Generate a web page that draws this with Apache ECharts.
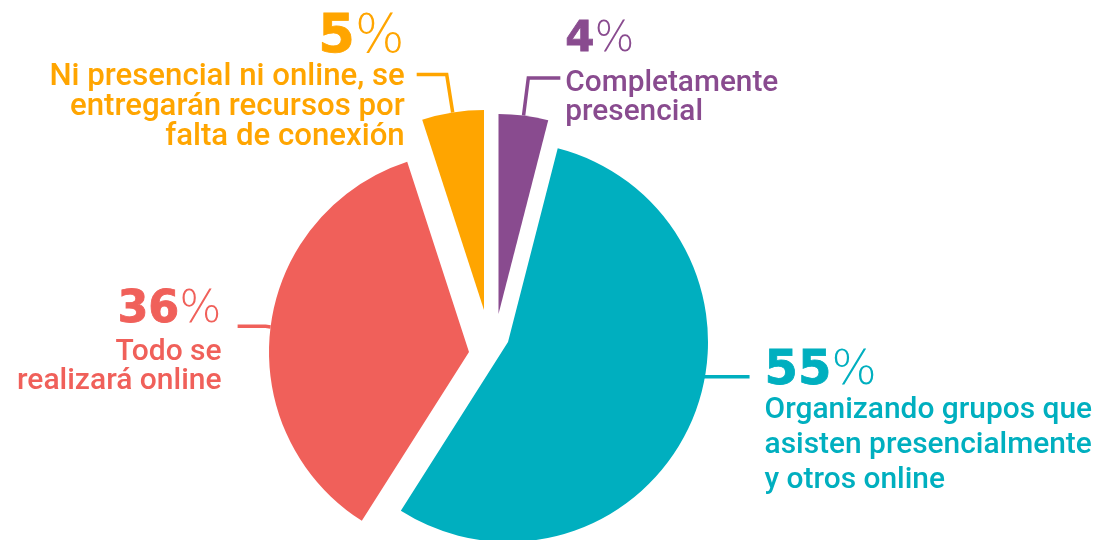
<!DOCTYPE html>
<html>
<head>
<meta charset="utf-8">
<script src="https://cdn.jsdelivr.net/npm/echarts@6/dist/echarts.min.js"></script>
<style>
  html, body { margin: 0; padding: 0; background: #ffffff; }
  #chart { width: 1101px; height: 540px; }
</style>
</head>
<body>
<div id="chart"></div>
<script>
// ---- data ----
const categories = [
  'Completamente\npresencial',
  'Organizando grupos que\nasisten presencialmente\ny otros online',
  'Todo se\nrealizará online',
  'Ni presencial ni online, se\nentregarán recursos por\nfalta de conexión'
];
const values = [4, 55, 36, 5];
const colors = ['#894B8F', '#00AFBF', '#F0605A', '#FFA500'];

// ---- styling / layout (one exploded piece per series) ----
const R = 200;
const pieces = [
  { center: [498.5, 314], len: 38, len2: 32, dist: 5,  num: 42,   txt: 29.8, h1: 59,   lh: 28.5, pad: [0, 0, 19, 0] },
  { center: [508, 342],   len: 0,  len2: 58, dist: 15, num: 48,   txt: 29.9, h1: 44,   lh: 35,   pad: [5, 0, 0, 0], lineAngle: 100 },
  { center: [469, 352],   len: 5,  len2: 28, dist: 16, num: 44.5, txt: 30,   h1: 55.5, lh: 28.5, pad: [26, 0, 0, 0] },
  { center: [484, 310],   len: 38.5, len2: 30, dist: 12, num: 52.5, txt: 31.2, h1: 49, lh: 30,   pad: [17, 0, 0, 0] }
];

const chart = echarts.init(document.getElementById('chart'), null, { renderer: 'canvas' });

const series = pieces.map((pc, k) => {
  const data = values.map((v, i) => {
    const own = i === k;
    return {
      name: categories[i],
      value: v,
      itemStyle: { color: own ? colors[i] : 'rgba(0,0,0,0)' },
      label: { show: own },
      labelLine: { show: own }
    };
  });
  const s = {
    type: 'pie',
    silent: true,
    animation: false,
    center: pc.center,
    radius: [0, R],
    startAngle: 90,
    clockwise: true,
    avoidLabelOverlap: false,
    data: data,
    label: {
      position: 'outside',
      distanceToLabelLine: pc.dist,
      padding: pc.pad,
      formatter: (p) => '{num|' + p.value + '}{pct|%}\n' +
        p.name.split('\n').map(t => '{txt|' + t + '}').join('\n'),
      rich: {
        num: { fontFamily: 'DejaVu Sans', fontWeight: 'bold', fontSize: pc.num, lineHeight: pc.h1, color: colors[k], textBorderColor: colors[k], textBorderWidth: 0.8 },
        pct: { fontFamily: 'DejaVu Sans', fontWeight: 200, fontSize: pc.num, lineHeight: pc.h1, color: colors[k] },
        txt: { fontFamily: 'Roboto', fontWeight: 500, fontSize: pc.txt, lineHeight: pc.lh, color: colors[k] }
      }
    },
    labelLine: {
      length: pc.len,
      length2: pc.len2,
      smooth: false,
      lineStyle: { color: colors[k], width: 3.5 }
    },
    emphasis: { disabled: true }
  };
  if (pc.lineAngle != null) {
    s.labelLayout = (p) => {
      if (p.dataIndex !== k || !p.labelLinePoints) return {};
      const a = pc.lineAngle * Math.PI / 180;
      const x0 = pc.center[0] + R * Math.sin(a) - 3;
      const y0 = pc.center[1] - R * Math.cos(a);
      const xe = p.labelLinePoints[2][0];
      return { labelLinePoints: [[x0, y0], [x0 + 1, y0], [xe, y0]] };
    };
  }
  return s;
});

chart.setOption({
  backgroundColor: '#ffffff',
  animation: false,
  series: series
});
</script>
</body>
</html>
